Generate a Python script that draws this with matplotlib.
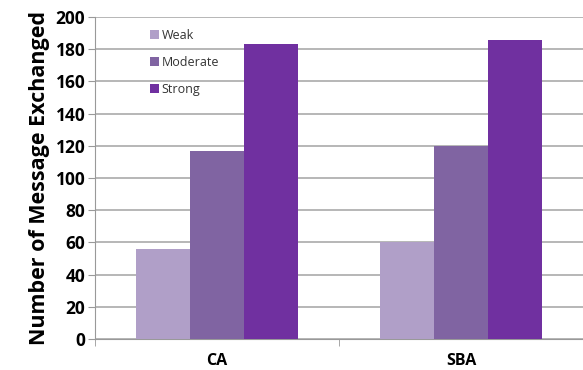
import matplotlib.pyplot as plt
import numpy as np

plt.rcParams['font.family'] = ['Open Sans', 'DejaVu Sans']

categories = ['CA', 'SBA']
series = ['Weak', 'Moderate', 'Strong']
weak = [56, 60]
moderate = [117, 120]
strong = [183, 186]
colors = ['#B09FC8', '#8064A2', '#7030A0']
yticks = [0, 20, 40, 60, 80, 100, 120, 140, 160, 180, 200]

fig = plt.figure(figsize=(5.83, 3.70), dpi=100)
ax = fig.add_axes([0.163, 0.084, 0.837, 0.870])

x = np.arange(len(categories))
w = 1 / 4.5
for i, (name, vals) in enumerate(zip(series, [weak, moderate, strong])):
    ax.bar(x + (i - 1) * w, vals, width=w, color=colors[i], label=name, zorder=3)

ax.set_xlim(-0.5, len(categories) - 0.5)
ax.set_ylim(0, 200)
ax.set_yticks(yticks)
ax.set_yticklabels([str(t) for t in yticks], fontsize=12.5, fontweight='bold')
ax.set_xticks(x)
ax.set_xticklabels(categories, fontsize=11.5, fontweight='bold')
ax.tick_params(axis='x', which='major', length=0, pad=10)
ax.set_xticks(np.arange(-0.5, len(categories)), minor=True)
ax.tick_params(axis='x', which='minor', length=5, color='#999999')
ax.tick_params(axis='y', length=5, color='#999999', pad=2)

ax.grid(axis='y', color='#AAAAAA', linewidth=1.2, zorder=0)
for s in ['top', 'right']:
    ax.spines[s].set_visible(False)
for s in ['left', 'bottom']:
    ax.spines[s].set_color('#999999')

ax.set_ylabel('Number of Message Exchanged', fontsize=15.5, fontweight='bold', labelpad=4)

leg = ax.legend(loc='upper left', bbox_to_anchor=(0.112, 0.962), frameon=False, fontsize=9,
                handlelength=0.75, handleheight=0.75, handletextpad=0.2, labelspacing=1.1,
                borderpad=0, borderaxespad=0, labelcolor='#333333')
leg.set_zorder(5)

fig.savefig('out.png', dpi=100)
